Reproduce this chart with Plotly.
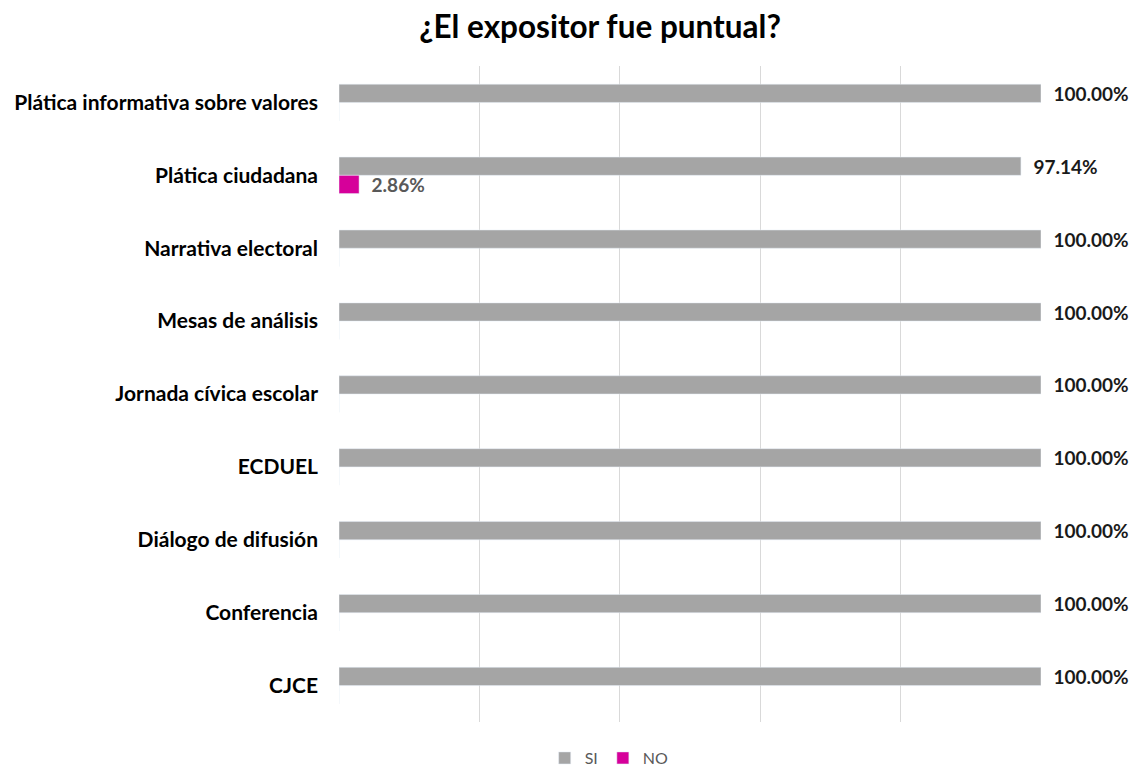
import plotly.graph_objects as go

categories = [
    "Plática informativa sobre valores",
    "Plática ciudadana",
    "Narrativa electoral",
    "Mesas de análisis",
    "Jornada cívica escolar",
    "ECDUEL",
    "Diálogo de difusión",
    "Conferencia",
    "CJCE",
]
si_values = [100.00, 97.14, 100.00, 100.00, 100.00, 100.00, 100.00, 100.00, 100.00]
no_values = [0, 2.86, 0, 0, 0, 0, 0, 0, 0]

FONT = "Lato"

def labels(vals):
    return ["\u2002" + f"{v:.2f}%" if v > 0 else "" for v in vals]

fig = go.Figure()
fig.add_trace(go.Bar(
    y=categories, x=si_values, name="SI", orientation="h",
    marker=dict(color="#A5A5A5"),
    text=labels(si_values), textposition="outside", cliponaxis=False,
    constraintext="none",
    textfont=dict(family=FONT, size=19, color="#1a1a1a", weight="bold"),
))
fig.add_trace(go.Bar(
    y=categories, x=no_values, name="NO", orientation="h",
    marker=dict(color="#D6009A"),
    text=labels(no_values), textposition="outside", cliponaxis=False,
    constraintext="none",
    textfont=dict(family=FONT, size=19, color="#595959", weight="bold"),
))

fig.update_layout(
    width=1130, height=763,
    paper_bgcolor="white", plot_bgcolor="white",
    margin=dict(l=331, r=97, t=58, b=49),
    barmode="group", bargap=0.5, bargroupgap=0,
    title=dict(text="<b>¿El expositor fue puntual?</b>", x=0.524, xanchor="center",
               y=0.975, yanchor="middle",
               font=dict(family=FONT, size=31.5, color="#000000")),
    xaxis=dict(range=[0, 100], dtick=20, showgrid=True, gridcolor="#D9D9D9",
               gridwidth=1, showticklabels=False, zeroline=False, showline=False,
               ticks=""),
    yaxis=dict(autorange=False, range=[8.5, -0.5], showgrid=False, ticks="",
               ticklabelstandoff=20, automargin=False,
               tickfont=dict(family=FONT, size=21, color="#000000", weight="bold")),
    legend=dict(orientation="h", x=0.293, xanchor="left", xref="paper",
                y=0.017, yanchor="middle", yref="container",
                font=dict(family=FONT, size=16, color="#595959"),
                itemwidth=30, traceorder="normal"),
    showlegend=True,
)

fig.write_html("out.html")
